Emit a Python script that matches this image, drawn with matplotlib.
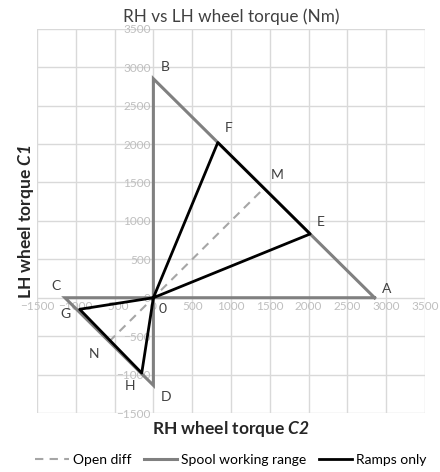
import matplotlib
matplotlib.use('Agg')
from matplotlib import pyplot as plt

# Spool working range (gray)
spool_x = [2850, 0, 0, -1140, 2850]
spool_y = [0, 2850, -1140, 0, 0]
# Open diff (dashed)
open_x = [-570, 1425]
open_y = [-570, 1425]
# Ramps only (black)
ramp_x = [0, 830, 2020, 0, -950, -150, 0]
ramp_y = [0, 2020, 830, 0, -150, -980, 0]

point_names = ['A', 'B', 'C', 'D', 'E', 'F', 'G', 'H', 'M', 'N', '0']
point_x = [2850, 0, -1140, 0, 2020, 830, -950, -150, 1425, -570, 0]
point_y = [0, 2850, 0, -1140, 830, 2020, -150, -980, 1425, -570, 0]
label_offsets = [(5, 2), (5, 4), (-10, 4), (5, -11), (5, 4), (5, 6), (-14, -6), (-12, -12), (5, 5), (-15, -12), (4, -11)]

ticks = [-1500, -1000, -500, 0, 500, 1000, 1500, 2000, 2500, 3000, 3500]


def main():
    plt.rcParams['font.family'] = ['Lato', 'DejaVu Sans']
    plt.rcParams['mathtext.fontset'] = 'custom'
    plt.rcParams['mathtext.bfit'] = 'Lato:italic:bold'
    plt.rcParams['mathtext.it'] = 'Lato:italic'

    fig = plt.figure(figsize=(4.4, 4.72), dpi=100)
    ax = fig.add_axes([0.084, 0.125, 0.882, 0.814])

    ax.plot(open_x, open_y, color='#A6A6A6', lw=1.5, ls=(0, (4, 3)), label='Open diff')
    ax.plot(spool_x, spool_y, color='#808080', lw=2.2, label='Spool working range', solid_joinstyle='miter')
    ax.plot(ramp_x, ramp_y, color='black', lw=2.0, label='Ramps only')

    for name, x, y, off in zip(point_names, point_x, point_y, label_offsets):
        ax.annotate(name, (x, y), xytext=off, textcoords='offset points',
                    fontsize=10, color='#404040', ha='left', va='bottom' if off[1] > 0 else 'baseline')

    ax.set_xlim(-1500, 3500)
    ax.set_ylim(-1500, 3500)
    ax.set_xticks(ticks)
    ax.set_yticks(ticks)
    ax.grid(True, color='#D9D9D9', lw=1)
    ax.set_axisbelow(True)
    ax.spines['left'].set_position(('data', 0))
    ax.spines['bottom'].set_position(('data', 0))
    for s in ax.spines.values():
        s.set_visible(False)
    ax.tick_params(length=0, labelsize=8.5, labelcolor='#BFBFBF', pad=2)

    ax.set_title('RH vs LH wheel torque (Nm)', fontsize=12.3, color='#404040', pad=5)
    fig.text(0.525, 0.092, r'RH wheel torque $\mathbfit{C2}$', fontsize=12.5, fontweight='bold',
             ha='center', va='center', color='#262626')
    fig.text(0.058, 0.53, r'LH wheel torque $\mathbfit{C1}$', fontsize=12.5, fontweight='bold',
             ha='center', va='center', rotation=90, color='#262626')

    fig.legend(loc='center', bbox_to_anchor=(0.525, 0.025), ncol=3, frameon=False, fontsize=10,
               handlelength=2.4, columnspacing=0.9, handletextpad=0.3)

    plt.savefig('out.png', dpi=100)


if __name__ == '__main__':
    main()
